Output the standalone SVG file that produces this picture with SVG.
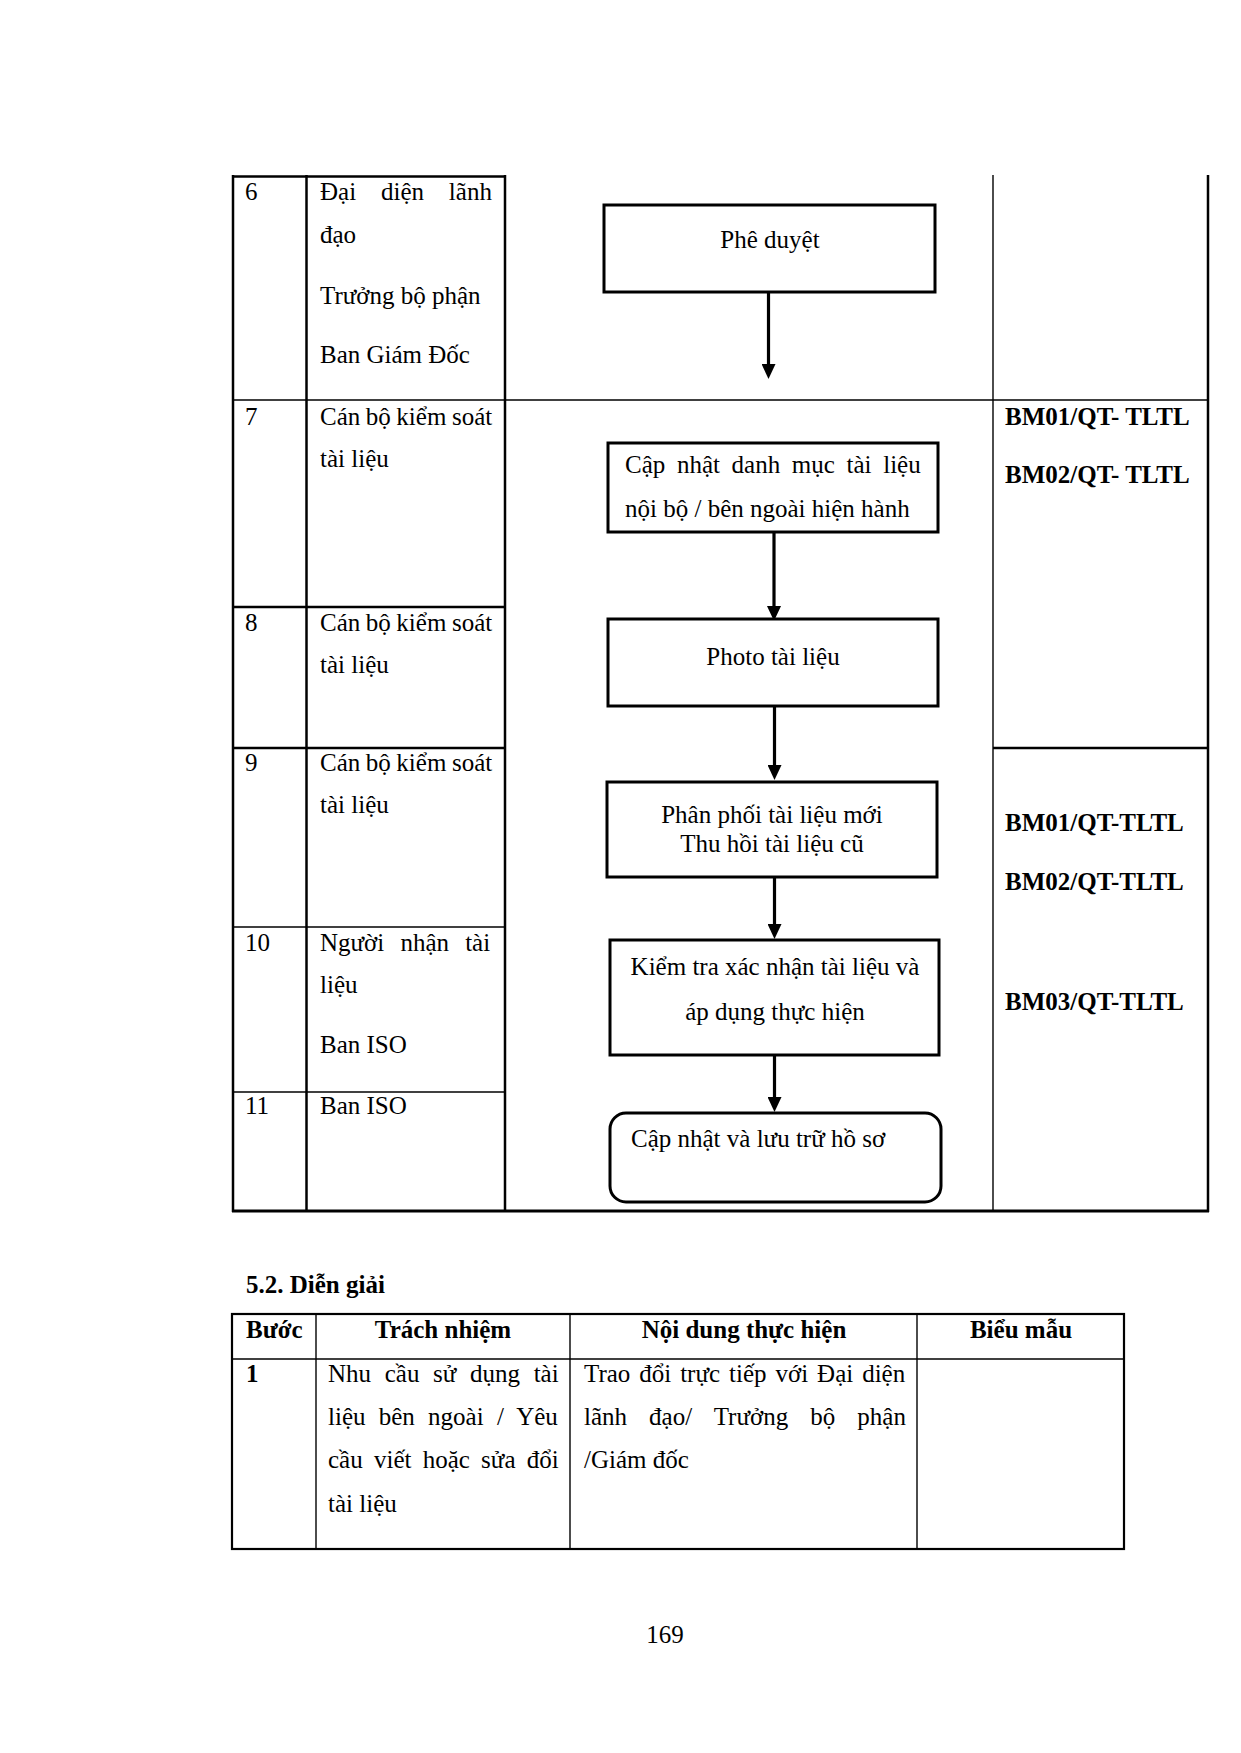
<svg xmlns="http://www.w3.org/2000/svg" width="1241" height="1753" viewBox="0 0 1241 1753">
<style>
text{font-family:"Liberation Serif","Times New Roman",serif;font-size:25px;fill:#000}
.b{font-weight:bold}
.m{text-anchor:middle}
.tk{stroke:#000;stroke-width:2.5;fill:none}
.tn{stroke:#000;stroke-width:1.4;fill:none}
.box{fill:#fff;stroke:#000;stroke-width:3}
.arr{stroke:#000;stroke-width:3.2;fill:none;marker-end:url(#ah)}
</style>
<defs>
<marker id="ah" markerUnits="userSpaceOnUse" markerWidth="15" markerHeight="14" refX="10" refY="7" orient="auto">
<path d="M0,0 L15,7 L0,14 z" fill="#000"/>
</marker>
</defs>
<rect width="1241" height="1753" fill="#fff"/>

<g id="table1">
<line class="tk" x1="232" y1="176.5" x2="506" y2="176.5"/>
<line class="tk" x1="233" y1="175" x2="233" y2="1212"/>
<line class="tk" x1="306.5" y1="175" x2="306.5" y2="1212"/>
<line class="tk" x1="505" y1="175" x2="505" y2="1212"/>
<line class="tn" x1="993" y1="175" x2="993" y2="1212"/>
<line class="tk" x1="1208" y1="175" x2="1208" y2="1212"/>
<line class="tn" x1="233" y1="400" x2="1208" y2="400"/>
<line class="tk" x1="233" y1="607" x2="505" y2="607"/>
<line class="tk" x1="233" y1="748" x2="505" y2="748"/>
<line class="tk" x1="993" y1="748" x2="1208" y2="748"/>
<line class="tn" x1="233" y1="927" x2="505" y2="927"/>
<line class="tn" x1="233" y1="1092" x2="505" y2="1092"/>
<line stroke="#000" stroke-width="2.8" x1="232" y1="1211" x2="1209" y2="1211"/>

<text x="245" y="200">6</text>
<text x="320" y="200" word-spacing="18.6">Đại diện lãnh</text>
<text x="320" y="243">đạo</text>
<text x="320" y="304">Trưởng bộ phận</text>
<text x="320" y="363">Ban Giám Đốc</text>

<text x="245" y="425">7</text>
<text x="320" y="425" word-spacing="-0.7">Cán bộ kiểm soát</text>
<text x="320" y="467">tài liệu</text>

<text x="245" y="631">8</text>
<text x="320" y="631" word-spacing="-0.7">Cán bộ kiểm soát</text>
<text x="320" y="673">tài liệu</text>

<text x="245" y="771">9</text>
<text x="320" y="771" word-spacing="-0.7">Cán bộ kiểm soát</text>
<text x="320" y="813">tài liệu</text>

<text x="245" y="951">10</text>
<text x="320" y="951" word-spacing="9.9">Người nhận tài</text>
<text x="320" y="993">liệu</text>
<text x="320" y="1053">Ban ISO</text>

<text x="245" y="1114">11</text>
<text x="320" y="1114">Ban ISO</text>

<text class="b" x="1005" y="425">BM01/QT- TLTL</text>
<text class="b" x="1005" y="483">BM02/QT- TLTL</text>
<text class="b" x="1005" y="831">BM01/QT-TLTL</text>
<text class="b" x="1005" y="890">BM02/QT-TLTL</text>
<text class="b" x="1005" y="1010">BM03/QT-TLTL</text>
</g>

<g id="connectors">
<line class="arr" x1="768.5" y1="292" x2="768.5" y2="374"/>
<line class="arr" x1="774" y1="532" x2="774" y2="616"/>
<line class="arr" x1="774.5" y1="706" x2="774.5" y2="775" stroke-width="2.3"/>
<line class="arr" x1="774.5" y1="877" x2="774.5" y2="934"/>
<line class="arr" x1="774.5" y1="1055" x2="774.5" y2="1107"/>
</g>

<g id="node-phe-duyet">
<rect class="box" x="604" y="205" width="331" height="87"/>
<text class="m" x="770" y="248">Phê duyệt</text>
</g>
<g id="node-cap-nhat-danh-muc">
<rect class="box" x="608" y="443" width="330" height="89"/>
<text x="625" y="473" word-spacing="5.4">Cập nhật danh mục tài liệu</text>
<text x="625" y="517">nội bộ / bên ngoài hiện hành</text>
</g>
<g id="node-photo">
<rect class="box" x="608" y="619" width="330" height="87"/>
<text class="m" x="773" y="665">Photo tài liệu</text>
</g>
<g id="node-phan-phoi">
<rect class="box" x="607" y="782" width="330" height="95"/>
<text class="m" x="772" y="823">Phân phối tài liệu mới</text>
<text class="m" x="772" y="852">Thu hồi tài liệu cũ</text>
</g>
<g id="node-kiem-tra">
<rect class="box" x="610" y="940" width="329" height="115"/>
<text class="m" x="775" y="975">Kiểm tra xác nhận tài liệu và</text>
<text class="m" x="775" y="1020">áp dụng thực hiện</text>
</g>
<g id="node-luu-tru">
<rect class="box" x="610" y="1113" width="331" height="89" rx="16" ry="16"/>
<text x="631" y="1147">Cập nhật và lưu trữ hồ sơ</text>
</g>

<g id="section-5-2">
<text class="b" x="246" y="1293">5.2. Diễn giải</text>
<rect x="232" y="1314" width="892" height="235" fill="none" stroke="#000" stroke-width="2.2"/>
<line class="tn" x1="232" y1="1359" x2="1124" y2="1359"/>
<line class="tn" x1="316" y1="1314" x2="316" y2="1549"/>
<line class="tn" x1="570" y1="1314" x2="570" y2="1549"/>
<line class="tn" x1="917" y1="1314" x2="917" y2="1549"/>
<text class="b" x="246" y="1338">Bước</text>
<text class="b m" x="443" y="1338">Trách nhiệm</text>
<text class="b m" x="744" y="1338">Nội dung thực hiện</text>
<text class="b m" x="1021" y="1338">Biểu mẫu</text>
<text class="b" x="246" y="1382">1</text>
<text x="328" y="1382" word-spacing="7.4">Nhu cầu sử dụng tài</text>
<text x="328" y="1425" word-spacing="7.0">liệu bên ngoài / Yêu</text>
<text x="328" y="1468" word-spacing="5.0">cầu viết hoặc sửa đổi</text>
<text x="328" y="1512">tài liệu</text>
<text x="584" y="1382" word-spacing="2.7">Trao đổi trực tiếp với Đại diện</text>
<text x="584" y="1425" word-spacing="15.8">lãnh đạo/ Trưởng bộ phận</text>
<text x="584" y="1468">/Giám đốc</text>
</g>

<text class="m" x="665" y="1643">169</text>
</svg>
